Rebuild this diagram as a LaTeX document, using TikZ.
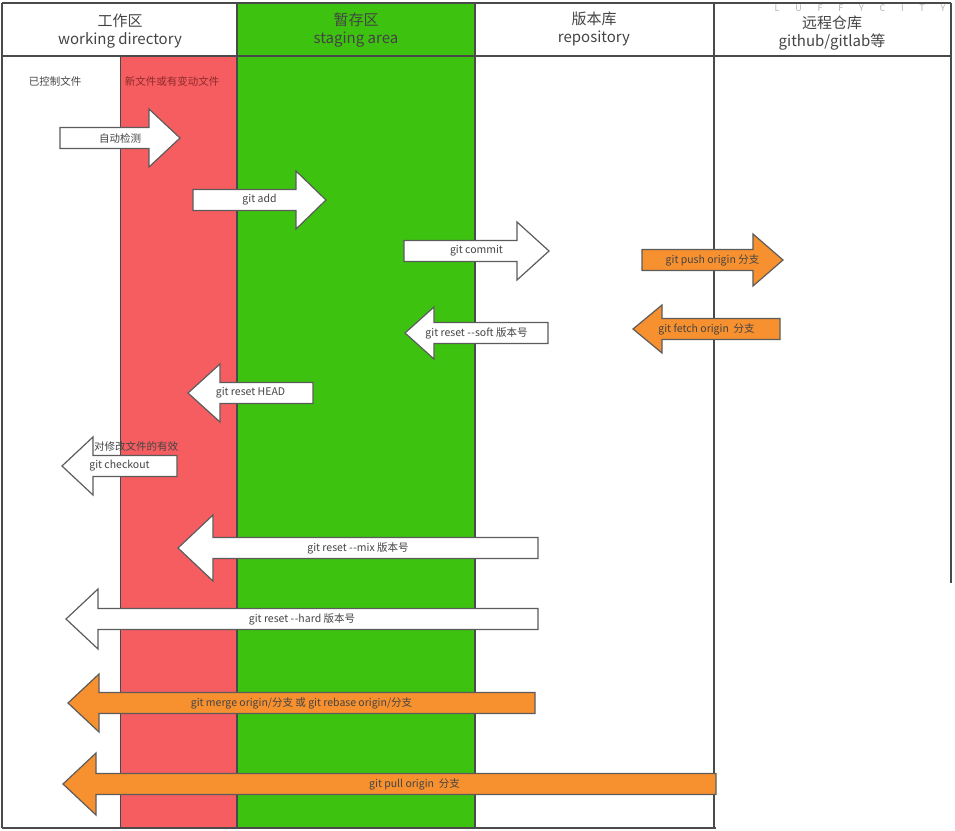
\documentclass[tikz,border=0pt]{standalone}
\usepackage{fontspec}
\setmainfont{Noto Sans CJK SC}
\usepackage{tikz}
\definecolor{workred}{HTML}{F55D61}
\definecolor{stagegreen}{HTML}{3DC20F}
\definecolor{remoteorange}{HTML}{F7902F}
\definecolor{framegray}{HTML}{4A4A4A}
\definecolor{labelgray}{HTML}{444444}
\definecolor{newred}{HTML}{8E2A2A}
\tikzset{
  colline/.style={framegray,line width=1.4pt},
  arr/.style={draw=framegray!90,line width=1.2pt,line join=miter},
  lbl/.style={font=\fontsize{10.5}{12}\selectfont,text=labelgray,inner sep=0pt},
  head/.style={font=\fontsize{15}{17.5}\selectfont,text=labelgray,align=center,inner sep=0pt},
}
% [label opts]{name}{tail x}{head base x}{tip x}{y}{head half}{style}{text}
\newcommand{\blockarr}[9][]{%
  \draw[arr,#8] (#3,#6-10.5) -- (#4,#6-10.5) -- (#4,#6-#7) -- (#5,#6)
    -- (#4,#6+#7) -- (#4,#6+10.5) -- (#3,#6+10.5) -- cycle;
  \node[lbl,#1] (#2) at ({(#3+#5)/2},#6) {#9};
}

\begin{document}
\begin{tikzpicture}[x=1pt,y=-1pt]
  \useasboundingbox (0,0) rectangle (955,830);
  \fill[white] (0,0) rectangle (955,830);
  % columns
  \fill[workred] (120,56) rectangle (237,828);
  \fill[stagegreen] (237,3) rectangle (475,828);
  \draw[colline] (2,3) -- (951,3);
  \draw[colline] (2,56) -- (951,56);
  \draw[colline] (2,828) -- (716,828);
  \draw[colline] (2,3) -- (2,828);
  \draw[colline,line width=1pt] (120,56) -- (120,828);
  \draw[colline] (237,3) -- (237,828);
  \draw[colline] (475,3) -- (475,828);
  \draw[colline] (714,3) -- (714,828);
  \draw[colline] (951,3) -- (951,583);
  % headers
  \node[head] (work) at (120,31) {工作区\\working directory};
  \node[head] (stage) at (356,30) {暂存区\\staging area};
  \node[head] (repo) at (594,29) {版本库\\repository};
  \node[head] (remote) at (832,33) {远程仓库\\github/gitlab等};
  \node[font=\fontsize{9}{10}\selectfont,text=black!30,inner sep=0pt] (mark) at (860,8)
    {L\hspace{1.75em}U\hspace{1.75em}F\hspace{1.75em}F\hspace{1.75em}Y\hspace{1.75em}C\hspace{1.75em}I\hspace{1.75em}T\hspace{1.75em}Y};
  \node[lbl] (tracked) at (55,81) {已控制文件};
  \node[lbl,text=newred] (changed) at (172,81) {新文件或有变动文件};
  % arrows
  \blockarr{detect}{60}{149}{180}{138}{29}{fill=white}{自动检测}
  \blockarr{add}{193}{296}{326}{200}{29}{fill=white}{git add}
  \blockarr{commit}{404}{517}{549}{251}{29}{fill=white}{git commit}
  \blockarr{push}{642}{753}{783}{260}{26}{fill=remoteorange}{git push origin 分支}
  \blockarr{soft}{548}{434}{405}{333}{26}{fill=white}{git reset -\kern0.5pt-soft 版本号}
  \blockarr{fetch}{780}{662}{633}{329}{24}{fill=remoteorange}{git fetch origin\ \ 分支}
  \blockarr{head}{313}{220}{188}{393}{29}{fill=white}{git reset HEAD}
  \blockarr{checkout}{177}{93}{62}{466}{29}{fill=white}{git checkout}
  \node[lbl] (modnote) at (136,446) {对修改文件的有效};
  \blockarr{mix}{538}{213}{178}{548}{33}{fill=white}{git reset -\kern0.5pt-mix 版本号}
  \blockarr{hard}{538}{98}{66}{619}{30}{fill=white}{git reset -\kern0.5pt-hard 版本号}
  \blockarr{merge}{535}{99}{68}{703}{29}{fill=remoteorange}{git merge origin/分支 或 git rebase origin/分支}
  \blockarr[xshift=25pt]{pull}{716}{96}{63}{784}{31}{fill=remoteorange}{git pull origin\ \ 分支}
\end{tikzpicture}
\end{document}
